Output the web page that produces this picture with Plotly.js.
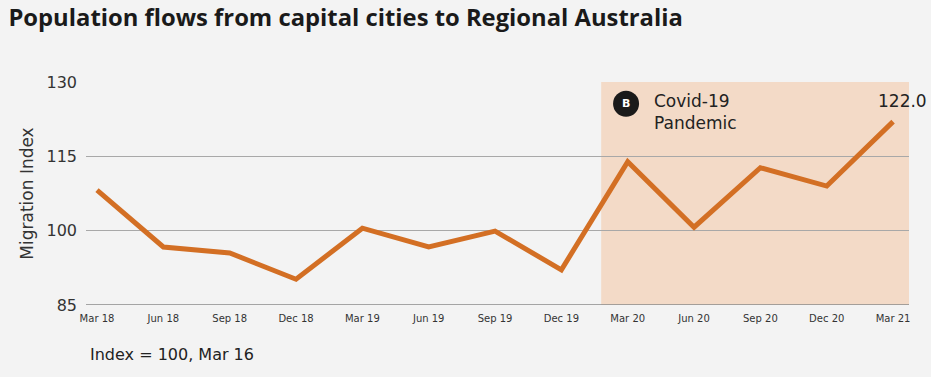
<!DOCTYPE html>
<html>
<head>
<meta charset="utf-8">
<script src="https://cdn.plot.ly/plotly-3.0.1.min.js"></script>
<style>html,body{margin:0;padding:0;background:#f3f3f3;}#chart{width:931px;height:377px;}</style>
</head>
<body>
<div id="chart"></div>
<script>
const categories = ["Mar 18","Jun 18","Sep 18","Dec 18","Mar 19","Jun 19","Sep 19","Dec 19","Mar 20","Jun 20","Sep 20","Dec 20","Mar 21"];
const migrationIndex = [108.2, 96.7, 95.5, 90.2, 100.5, 96.7, 99.9, 92.1, 113.9, 100.7, 112.7, 109.0, 122.0];
const yTicks = [85, 100, 115, 130];
const pandemicStart = 7.6;

const xIdx = categories.map((c, i) => i);
const last = migrationIndex.length - 1;

const trace = {
  x: xIdx, y: migrationIndex, type: 'scatter', mode: 'lines',
  line: {color: '#d36f24', width: 5, shape: 'linear'},
  hoverinfo: 'skip'
};

const layout = {
  width: 931, height: 377,
  paper_bgcolor: '#f3f3f3', plot_bgcolor: '#f3f3f3',
  margin: {l: 86, r: 22, t: 82, b: 72},
  showlegend: false,
  font: {family: 'DejaVu Sans, sans-serif', color: '#222'},
  title: {text: '<b>Population flows from capital cities to Regional Australia</b>',
    x: 0.009, xanchor: 'left', y: 0.952, yanchor: 'middle',
    font: {family: 'Open Sans, sans-serif', size: 23.8, color: '#1a1a1a'}},
  xaxis: {
    range: [-0.166, 12.24], tickvals: xIdx, ticktext: categories,
    showgrid: false, zeroline: false, showline: false, ticks: '',
    tickfont: {size: 10, color: '#333', family: 'DejaVu Sans, sans-serif'}, ticklabelstandoff: 6
  },
  yaxis: {
    range: [85, 130], tickvals: yTicks, ticktext: yTicks.map(String),
    showgrid: true, gridcolor: '#a8a8a8', gridwidth: 1, zeroline: false,
    showline: false, ticks: '', tickfont: {size: 16, color: '#333'},
    ticklabelstandoff: 8,
    title: {text: 'Migration Index', font: {size: 17, color: '#333'}, standoff: 8}
  },
  shapes: [
    {type: 'rect', xref: 'x', yref: 'paper', x0: pandemicStart, x1: 12.24, y0: 0, y1: 1,
     fillcolor: '#f3dac7', line: {width: 0}, layer: 'below'},
    {type: 'line', xref: 'paper', yref: 'y', x0: 0, x1: 1, y0: 85, y1: 85,
     line: {color: '#8a8a8a', width: 1.5}},
    {type: 'circle', xref: 'x', yref: 'y', xsizemode: 'pixel', ysizemode: 'pixel',
     xanchor: 7.975, yanchor: 125.6, x0: -13, x1: 13, y0: -13, y1: 13,
     fillcolor: '#1a1a1a', line: {width: 0}}
  ],
  annotations: [
    {xref: 'x', yref: 'y', x: 7.975, y: 125.6, text: '<b>B</b>', showarrow: false,
     font: {size: 11, color: '#ffffff'}},
    {xref: 'x', yref: 'y', x: 8.37, y: 128.6, xanchor: 'left', yanchor: 'top', align: 'left',
     text: 'Covid-19<br>Pandemic', showarrow: false, font: {size: 17, color: '#222'}},
    {xref: 'x', yref: 'y', x: last, y: migrationIndex[last], text: migrationIndex[last].toFixed(1),
     showarrow: false, xshift: 9, yshift: 21, font: {size: 17, color: '#222'}},
    {xref: 'paper', yref: 'paper', x: 0.002, y: -0.22, xanchor: 'left', yanchor: 'middle',
     text: 'Index = 100, Mar 16', showarrow: false, font: {size: 16, color: '#222'}}
  ]
};

Plotly.newPlot('chart', [trace], layout, {displayModeBar: false, staticPlot: true});
</script>
</body>
</html>
